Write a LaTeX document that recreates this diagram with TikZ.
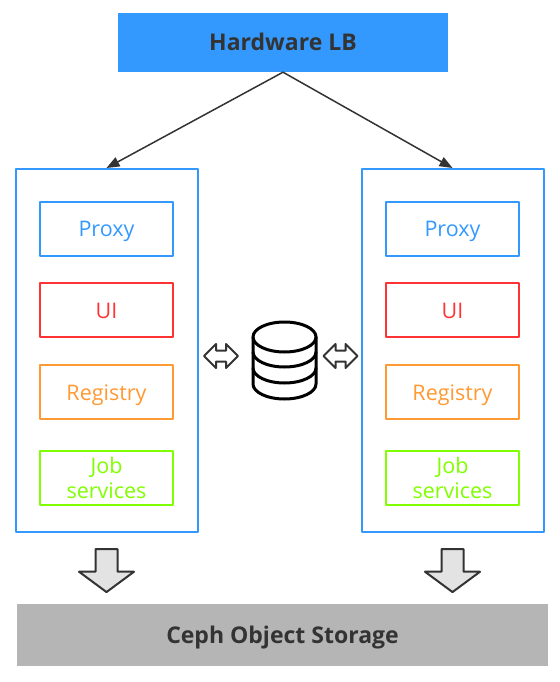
\documentclass[tikz,border=0pt]{standalone}
\usepackage{fontspec}
\setmainfont{Open Sans}
\usetikzlibrary{arrows.meta}
\usetikzlibrary{shapes.arrows}
\definecolor{hwblue}{HTML}{3399FF}
\definecolor{uired}{HTML}{FF3333}
\definecolor{regorange}{HTML}{FF9933}
\definecolor{jobgreen}{HTML}{80FF00}
\definecolor{inkgray}{HTML}{333333}
\tikzset{
podbox/.style={draw=hwblue,line width=2pt,minimum width=182pt,minimum height=363pt,inner sep=0pt},
innerbox/.style={draw=#1,text=#1,line width=2pt,minimum width=133pt,minimum height=54pt,inner sep=0pt,align=center,font=\fontsize{21.5}{25}\selectfont},
oneline/.style={text height=16pt,text depth=0pt},
barbox/.style={fill=#1,text=inkgray,inner sep=0pt,text height=16.5pt,text depth=0pt,font=\fontsize{23}{25}\selectfont\bfseries},
downarrow/.style={single arrow,draw=inkgray,fill=black!11,line width=2pt,rotate=-90,text height=20pt,text depth=0pt,minimum height=43pt,single arrow head extend=16.5pt,single arrow tip angle=107,single arrow head indent=0pt,inner sep=0pt},
sidearrow/.style={double arrow,draw=inkgray,fill=white,line width=2pt,text height=9pt,text depth=0pt,minimum height=34pt,double arrow head extend=6.5pt,inner sep=0pt}
}
\begin{document}
\begin{tikzpicture}[line cap=round,line join=round,>={Triangle[length=13pt,width=10pt]},x=1pt,y=-1pt]
\useasboundingbox (0,0) rectangle (559,682);
% Top and bottom bars
\node[barbox=hwblue,minimum width=330pt,minimum height=59pt] (hardware) at (283,42.5) {Hardware LB};
\node[barbox=black!29,minimum width=531pt,minimum height=62pt] (ceph) at (282.5,635) {Ceph Object Storage};
% The two groups of boxes
\foreach \name/\x in {left/106.5,right/452.5}{
\node[podbox] (pod\name) at (\x,350.5) {};
\node[innerbox=hwblue,oneline] (proxy\name) at (\x,228.5) {Proxy};
\node[innerbox=uired,oneline] (ui\name) at (\x,310) {UI};
\node[innerbox=regorange,oneline] (registry\name) at (\x,392) {Registry};
\node[innerbox=jobgreen,text depth=0pt] (job\name) at (\x,477.5) {Job\\services};
\node[downarrow] (store\name) at (\x,566.5) {};
}
% Arrows from the load balancer
\draw[->,color=inkgray,line width=1.5pt] (hardware.south) -- (podleft.north);
\draw[->,color=inkgray,line width=1.5pt] (hardware.south) -- (podright.north);
% Database
\draw[line width=3pt,fill=white] (253,337) -- (253,384) arc[start angle=180,end angle=0,x radius=31.5,y radius=15] -- (316,337);
\draw[line width=3pt] (253,352) arc[start angle=180,end angle=0,x radius=31.5,y radius=15];
\draw[line width=3pt] (253,368) arc[start angle=180,end angle=0,x radius=31.5,y radius=15];
\draw[line width=3pt] (284.5,337) ellipse[x radius=31.5,y radius=15];
% Arrows beside the database
\node[sidearrow] (syncleft) at (221,356) {};
\node[sidearrow] (syncright) at (340.5,356) {};
\end{tikzpicture}
\end{document}
